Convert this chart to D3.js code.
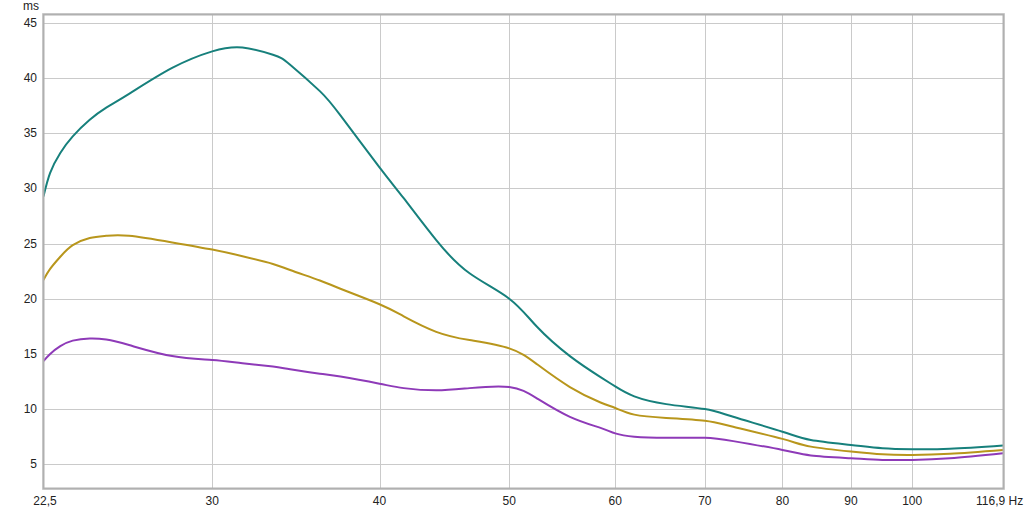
<!DOCTYPE html>
<html>
<head>
<meta charset="utf-8">
<script src="https://cdn.jsdelivr.net/npm/d3@7"></script>
<style>
  html, body { margin: 0; padding: 0; background: #fff; }
  svg { display: block; }
  text { font-family: "Liberation Sans", Arial, sans-serif; font-size: 12px; fill: #222; }
</style>
</head>
<body>
<svg id="chart" width="1024" height="511"></svg>
<script>
const freqs = [22.44, 22.7, 23.1, 23.6, 24.3, 25, 26, 28, 30, 31.6, 33.3, 34.3, 36.1, 37.4, 40, 41.7, 44.1, 46.7, 50, 52.4, 55.5, 58.5, 60, 62, 65.5, 70, 73.5, 80, 84, 90, 95, 100, 106.7, 116.9];
const tealValues   = [29.25, 31.4, 33.2, 34.7, 36.2, 37.3, 38.55, 40.9, 42.4, 42.75, 42.1, 41.2, 38.8, 36.6, 31.9, 29.1, 25.3, 22.3, 20.0, 17.5, 14.8, 12.9, 12.05, 11.15, 10.45, 10.0, 9.3, 7.95, 7.2, 6.75, 6.45, 6.36, 6.4, 6.7];
const goldValues   = [21.7, 22.7, 23.8, 24.85, 25.5, 25.7, 25.7, 25.1, 24.45, 23.85, 23.15, 22.6, 21.65, 20.9, 19.5, 18.4, 17.0, 16.25, 15.5, 14.1, 12.0, 10.6, 10.1, 9.5, 9.2, 8.95, 8.4, 7.3, 6.6, 6.15, 5.9, 5.85, 5.95, 6.3];
const purpleValues = [14.35, 15.0, 15.7, 16.2, 16.4, 16.3, 15.8, 14.8, 14.45, 14.15, 13.85, 13.6, 13.2, 12.95, 12.3, 11.9, 11.7, 11.9, 12.0, 11.0, 9.3, 8.3, 7.8, 7.5, 7.4, 7.4, 7.1, 6.3, 5.8, 5.55, 5.4, 5.4, 5.55, 6.0];
const xTicks = [30, 40, 50, 60, 70, 80, 90, 100];
const xTickLabels = ["30", "40", "50", "60", "70", "80", "90", "100"];
const yTicks = [5, 10, 15, 20, 25, 30, 35, 40, 45];
const seriesColors = ["#17807c", "#b8961c", "#8e3ab8"];

const svg = d3.select("#chart");
const x = d3.scaleLog().domain([22.5, 116.9]).range([45, 1003]);
const y = d3.scaleLinear().domain([5, 45]).range([464.3, 22.7]);

const frame = { x0: 43.5, y0: 14.5, x1: 1003.5, y1: 488.5 };

// gridlines
const g = svg.append("g");
g.selectAll("line.h").data(yTicks).join("line")
  .attr("x1", frame.x0).attr("x2", frame.x1)
  .attr("y1", d => Math.round(y(d)) + 0.5).attr("y2", d => Math.round(y(d)) + 0.5)
  .attr("stroke", "#cacaca").attr("stroke-width", 1);
g.selectAll("line.v").data(xTicks).join("line")
  .attr("y1", frame.y0).attr("y2", frame.y1)
  .attr("x1", d => Math.round(x(d)) + 0.5).attr("x2", d => Math.round(x(d)) + 0.5)
  .attr("stroke", "#cacaca").attr("stroke-width", 1);

// clip
svg.append("clipPath").attr("id", "clip").append("rect")
  .attr("x", frame.x0).attr("y", frame.y0)
  .attr("width", frame.x1 - frame.x0).attr("height", frame.y1 - frame.y0);

const line = d3.line().x(d => x(d[0])).y(d => y(d[1])).curve(d3.curveNatural);
const allSeries = [tealValues, goldValues, purpleValues];
svg.append("g").attr("clip-path", "url(#clip)")
  .selectAll("path").data(allSeries).join("path")
  .attr("d", vals => line(freqs.map((f, i) => [f, vals[i]])))
  .attr("fill", "none")
  .attr("stroke", (d, i) => seriesColors[i])
  .attr("stroke-width", 2);

// frame
svg.append("rect")
  .attr("x", frame.x0 - 1).attr("y", frame.y0 - 1)
  .attr("width", frame.x1 - frame.x0 + 2).attr("height", frame.y1 - frame.y0 + 2)
  .attr("fill", "none").attr("stroke", "#dedede").attr("stroke-width", 1);
svg.append("rect")
  .attr("x", frame.x0).attr("y", frame.y0)
  .attr("width", frame.x1 - frame.x0).attr("height", frame.y1 - frame.y0)
  .attr("fill", "none").attr("stroke", "#b0b0b0").attr("stroke-width", 2);

// y labels
svg.selectAll("text.y").data(yTicks).join("text")
  .attr("x", 37).attr("y", d => y(d) + 4)
  .attr("text-anchor", "end").text(d => d);
svg.append("text").attr("x", 23).attr("y", 9.5).text("ms");

// x labels
svg.selectAll("text.x").data(xTicks).join("text")
  .attr("x", d => x(d)).attr("y", 505)
  .attr("text-anchor", "middle").text((d, i) => xTickLabels[i]);
svg.append("text").attr("x", x(22.5)).attr("y", 505).attr("text-anchor", "middle").text("22,5");
svg.append("text").attr("x", 976).attr("y", 505).text("116,9 Hz");
</script>
</body>
</html>
